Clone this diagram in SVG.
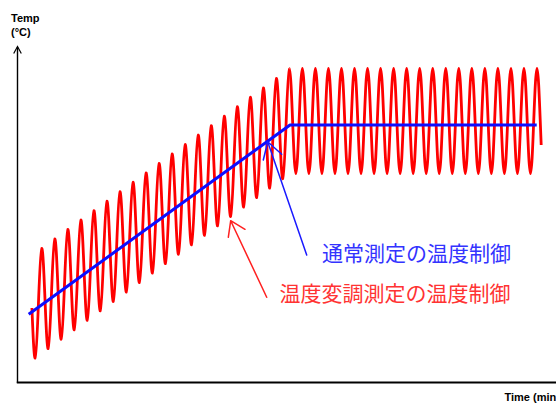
<svg xmlns="http://www.w3.org/2000/svg" width="556" height="403" viewBox="0 0 556 403">
<style>
.ax{fill:none;stroke:#000;stroke-linecap:butt}
.wave{fill:none;stroke:#ff0000;stroke-width:2.8;stroke-linejoin:round}
.ctrl{fill:none;stroke:#0d0dff;stroke-width:3;stroke-linejoin:round}
.axlbl{font-family:"Liberation Sans",Arial,sans-serif;font-weight:bold;font-size:11px;fill:#000}
.jp{font-family:"Noto Sans CJK JP","Noto Sans CJK SC",sans-serif;font-size:21px}
.arB{fill:none;stroke:#1a1aff;stroke-width:1.5;stroke-linecap:round;stroke-linejoin:round}
.arR{fill:none;stroke:#ff2020;stroke-width:1.5;stroke-linecap:round;stroke-linejoin:round}
</style>
<rect width="556" height="403" fill="#fff"/>
<g id="axes">
<path class="ax" stroke-width="1.4" d="M17.5,47 V383"/>
<path class="ax" stroke-width="1.2" d="M13.7,53.5 L17.5,46.5 L21.3,53.5"/>
<path class="ax" stroke-width="2" d="M16.8,382.5 H556"/>
<text class="axlbl" x="11" y="22">Temp</text>
<text class="axlbl" x="11" y="36">(°C)</text>
<text class="axlbl" x="504.5" y="401">Time (min)</text>
</g>
<g id="modulated-temperature">
<path class="wave" vector-effect="non-scaling-stroke" transform="matrix(1,-0.7245,0,1,0,331.1)" d="M31.925,0 c1.063,26.895 2.079,52.5 3.2585,52.5
s2.196,-25.605 3.2585,-52.5 s2.079,-52.5 3.2585,-52.5 s2.196,25.605 3.2585,52.5 s2.079,52.5 3.2585,52.5
s2.196,-25.605 3.2585,-52.5 s2.079,-52.5 3.2585,-52.5 s2.196,25.605 3.2585,52.5 s2.079,52.5 3.2585,52.5
s2.196,-25.605 3.2585,-52.5 s2.079,-52.5 3.2585,-52.5 s2.196,25.605 3.2585,52.5 s2.079,52.5 3.2585,52.5
s2.196,-25.605 3.2585,-52.5 s2.079,-52.5 3.2585,-52.5 s2.196,25.605 3.2585,52.5 s2.079,52.5 3.2585,52.5
s2.196,-25.605 3.2585,-52.5 s2.079,-52.5 3.2585,-52.5 s2.196,25.605 3.2585,52.5 s2.079,52.5 3.2585,52.5
s2.196,-25.605 3.2585,-52.5 s2.079,-52.5 3.2585,-52.5 s2.196,25.605 3.2585,52.5 s2.079,52.5 3.2585,52.5
s2.196,-25.605 3.2585,-52.5 s2.079,-52.5 3.2585,-52.5 s2.196,25.605 3.2585,52.5 s2.079,52.5 3.2585,52.5
s2.196,-25.605 3.2585,-52.5 s2.079,-52.5 3.2585,-52.5 s2.196,25.605 3.2585,52.5 s2.079,52.5 3.2585,52.5
s2.196,-25.605 3.2585,-52.5 s2.079,-52.5 3.2585,-52.5 s2.196,25.605 3.2585,52.5 s2.079,52.5 3.2585,52.5
s2.196,-25.605 3.2585,-52.5 s2.079,-52.5 3.2585,-52.5 s2.196,25.605 3.2585,52.5 s2.079,52.5 3.2585,52.5
s2.196,-25.605 3.2585,-52.5 s2.079,-52.5 3.2585,-52.5 s2.196,25.605 3.2585,52.5 s2.079,52.5 3.2585,52.5
s2.196,-25.605 3.2585,-52.5 s2.079,-52.5 3.2585,-52.5 s2.196,25.605 3.2585,52.5 s2.079,52.5 3.2585,52.5
s2.196,-25.605 3.2585,-52.5 s2.079,-52.5 3.2585,-52.5 s2.196,25.605 3.2585,52.5 s2.079,52.5 3.2585,52.5
s2.196,-25.605 3.2585,-52.5 s2.079,-52.5 3.2585,-52.5 s2.196,25.605 3.2585,52.5 s2.079,52.5 3.2585,52.5
s2.196,-25.605 3.2585,-52.5 s2.079,-52.5 3.2585,-52.5 s2.196,25.605 3.2585,52.5 s2.079,52.5 3.2585,52.5
s2.196,-25.605 3.2585,-52.5 s2.079,-52.5 3.2585,-52.5 s2.196,25.605 3.2585,52.5 s2.079,52.5 3.2585,52.5
s2.196,-25.605 3.2585,-52.5 s2.079,-52.5 3.2585,-52.5 s2.196,25.605 3.2585,52.5 s2.079,52.5 3.2585,52.5
s2.196,-25.605 3.2585,-52.5 s2.079,-52.5 3.2585,-52.5 s2.196,25.605 3.2585,52.5 s2.079,52.5 3.2585,52.5
s2.196,-25.605 3.2585,-52.5 s2.079,-52.5 3.2585,-52.5 s2.196,25.605 3.2585,52.5 s2.079,52.5 3.2585,52.5
s2.196,-25.605 3.2585,-52.5 s2.079,-52.5 3.2585,-52.5"/>
<path class="wave" d="M289.346,68.5 c1.179,0 2.196,25.605 3.2585,52.5
s2.079,52.5 3.2585,52.5 s2.196,-25.605 3.2585,-52.5 s2.079,-52.5 3.2585,-52.5 s2.196,25.605 3.2585,52.5
s2.079,52.5 3.2585,52.5 s2.196,-25.605 3.2585,-52.5 s2.079,-52.5 3.2585,-52.5 s2.196,25.605 3.2585,52.5
s2.079,52.5 3.2585,52.5 s2.196,-25.605 3.2585,-52.5 s2.079,-52.5 3.2585,-52.5 s2.196,25.605 3.2585,52.5
s2.079,52.5 3.2585,52.5 s2.196,-25.605 3.2585,-52.5 s2.079,-52.5 3.2585,-52.5 s2.196,25.605 3.2585,52.5
s2.079,52.5 3.2585,52.5 s2.196,-25.605 3.2585,-52.5 s2.079,-52.5 3.2585,-52.5 s2.196,25.605 3.2585,52.5
s2.079,52.5 3.2585,52.5 s2.196,-25.605 3.2585,-52.5 s2.079,-52.5 3.2585,-52.5 s2.196,25.605 3.2585,52.5
s2.079,52.5 3.2585,52.5 s2.196,-25.605 3.2585,-52.5 s2.079,-52.5 3.2585,-52.5 s2.196,25.605 3.2585,52.5
s2.079,52.5 3.2585,52.5 s2.196,-25.605 3.2585,-52.5 s2.079,-52.5 3.2585,-52.5 s2.196,25.605 3.2585,52.5
s2.079,52.5 3.2585,52.5 s2.196,-25.605 3.2585,-52.5 s2.079,-52.5 3.2585,-52.5 s2.196,25.605 3.2585,52.5
s2.079,52.5 3.2585,52.5 s2.196,-25.605 3.2585,-52.5 s2.079,-52.5 3.2585,-52.5 s2.196,25.605 3.2585,52.5
s2.079,52.5 3.2585,52.5 s2.196,-25.605 3.2585,-52.5 s2.079,-52.5 3.2585,-52.5 s2.196,25.605 3.2585,52.5
s2.079,52.5 3.2585,52.5 s2.196,-25.605 3.2585,-52.5 s2.079,-52.5 3.2585,-52.5 s2.196,25.605 3.2585,52.5
s2.079,52.5 3.2585,52.5 s2.196,-25.605 3.2585,-52.5 s2.079,-52.5 3.2585,-52.5 s2.196,25.605 3.2585,52.5
s2.079,52.5 3.2585,52.5 s2.196,-25.605 3.2585,-52.5 s2.079,-52.5 3.2585,-52.5 s2.196,25.605 3.2585,52.5
s2.079,52.5 3.2585,52.5 s2.196,-25.605 3.2585,-52.5 s2.079,-52.5 3.2585,-52.5 s2.196,25.605 3.2585,52.5
s2.079,52.5 3.2585,52.5 s2.196,-25.605 3.2585,-52.5 s2.079,-52.5 3.2585,-52.5 s2.196,25.605 3.2585,52.5
s2.079,52.5 3.2585,52.5 s2.196,-25.605 3.2585,-52.5 s2.079,-52.5 3.2585,-52.5 s2.196,25.605 3.2585,52.5
s2.079,52.5 3.2585,52.5 s2.196,-25.605 3.2585,-52.5 s2.079,-52.5 3.2585,-52.5 s2.196,25.605 3.2585,52.5
s2.079,52.5 3.2585,52.5 s2.196,-25.605 3.2585,-52.5 s2.079,-52.5 3.2585,-52.5
s2.196,25.605 3.2585,52.5 l0.95,24"/>
</g>
<g id="normal-control">
<path class="ctrl" d="M28.7,314.3 L290,125 L536.7,125"/>
</g>
<g id="connectors">
<path class="arB" d="M306.7,255 L267.7,141.7 M263.3,160 L267.7,141.7 L281.7,154.3"/>
<path class="arR" d="M266.7,297.3 L230.7,220.7 M228.3,237.3 L230.7,220.7 L245,229.3"/>
</g>
<g id="label-normal">
<text class="jp" x="322" y="261" fill="#3333ff">通常測定の温度制御</text>
</g>
<g id="label-modulated">
<text class="jp" x="279.5" y="301" fill="#ff3333">温度変調測定の温度制御</text>
</g>
</svg>
